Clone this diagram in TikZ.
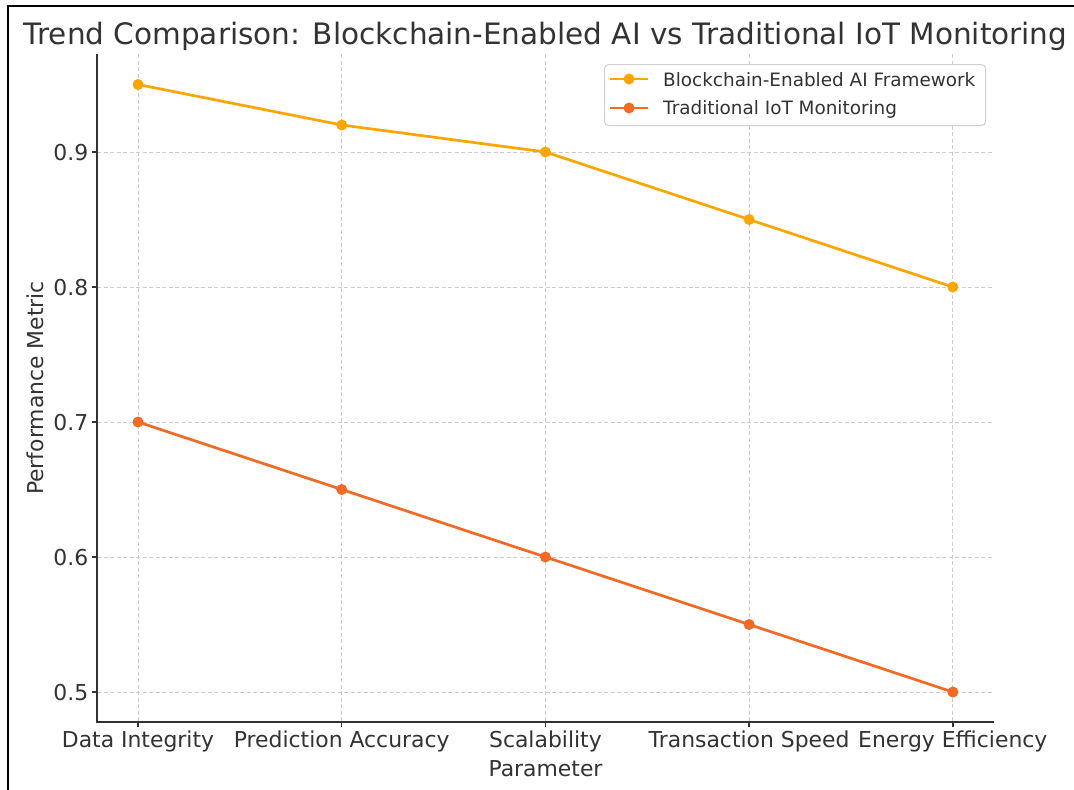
\documentclass[tikz,border=0pt]{standalone}
\usepackage{fontspec}
\setmainfont{DejaVu Sans}
\definecolor{aiorange}{RGB}{255,165,0}
\definecolor{iotorange}{RGB}{242,106,36}
\definecolor{inkgray}{RGB}{51,51,51}
\begin{document}
\begin{tikzpicture}[x=1pt,y=-1pt,
  txt/.style={text=inkgray, inner sep=0pt},
  ticklbl/.style={txt, font=\fontsize{21.9}{26}\selectfont},
  legendlbl/.style={txt, font=\fontsize{18.4}{22}\selectfont},
  titlelbl/.style={txt, font=\fontsize{29.5}{34}\selectfont},
  gridline/.style={draw=black!20, line width=1pt, dash pattern=on 4pt off 2.5pt},
  spine/.style={draw=inkgray, line width=1.6pt},
  tickmark/.style={draw=inkgray, line width=1.4pt},
  ailine/.style={draw=aiorange, line width=2.7pt, line join=round},
  iotline/.style={draw=iotorange, line width=2.7pt, line join=round},
  aidot/.style={circle, fill=aiorange, minimum size=11pt, inner sep=0pt},
  iotdot/.style={circle, fill=iotorange, minimum size=11pt, inner sep=0pt},
  legendbox/.style={draw=black!18, fill=white, line width=1pt, rounded corners=4pt}
]
% page and outer frame
\fill[white] (0,0) rectangle (1074,790);
\useasboundingbox (0,0) rectangle (1074,790);
\draw[black, line width=2pt] (8,790) -- (8,6) -- (1074,6);

% grid
\foreach \gx in {138,341.7,545.4,749.1,952.8}
  \draw[gridline] (\gx,54) -- (\gx,722);
\foreach \gy in {152,287,422,557,692}
  \draw[gridline] (97.25,\gy) -- (993.75,\gy);

% spines and ticks
\draw[spine] (97.25,54) -- (97.25,722) -- (993.75,722);
\foreach \gx in {138,341.7,545.4,749.1,952.8}
  \draw[tickmark] (\gx,722) -- (\gx,727);
\foreach \gy in {152,287,422,557,692}
  \draw[tickmark] (97.25,\gy) -- (92.25,\gy);

% y tick labels
\node[ticklbl, anchor=base east] (y5) at (88.5,700) {0.5};
\node[ticklbl, anchor=base east] (y6) at (88.5,565) {0.6};
\node[ticklbl, anchor=base east] (y7) at (88.5,430) {0.7};
\node[ticklbl, anchor=base east] (y8) at (88.5,295) {0.8};
\node[ticklbl, anchor=base east] (y9) at (88.5,160) {0.9};

% x tick labels
\node[ticklbl, anchor=base] (c0) at (138,747) {Data Integrity};
\node[ticklbl, anchor=base] (c1) at (341.7,747) {Prediction Accuracy};
\node[ticklbl, anchor=base] (c2) at (545.4,747) {Scalability};
\node[ticklbl, anchor=base] (c3) at (749.1,747) {Transaction Speed};
\node[ticklbl, anchor=base] (c4) at (952.8,747) {Energy Efficiency};

% axis labels and title
\node[ticklbl, anchor=base] (xlab) at (545.5,776) {Parameter};
\node[ticklbl, anchor=base, rotate=90] (ylab) at (43,388) {Performance Metric};
\node[titlelbl, anchor=base] (title) at (545.5,44) {Trend Comparison: Blockchain-Enabled AI vs Traditional IoT Monitoring};

% blockchain-enabled AI framework series
\node[aidot] (a0) at (138,84.5) {};
\node[aidot] (a1) at (341.7,125) {};
\node[aidot] (a2) at (545.4,152) {};
\node[aidot] (a3) at (749.1,219.5) {};
\node[aidot] (a4) at (952.8,287) {};
\draw[ailine] (a0.center) -- (a1.center) -- (a2.center) -- (a3.center) -- (a4.center);

% traditional IoT monitoring series
\node[iotdot] (t0) at (138,422) {};
\node[iotdot] (t1) at (341.7,489.5) {};
\node[iotdot] (t2) at (545.4,557) {};
\node[iotdot] (t3) at (749.1,624.5) {};
\node[iotdot] (t4) at (952.8,692) {};
\draw[iotline] (t0.center) -- (t1.center) -- (t2.center) -- (t3.center) -- (t4.center);

% legend
\node[legendbox, minimum width=381pt, minimum height=61pt, anchor=north west] (legend) at (604,64) {};
\coordinate (la0) at (610,79);
\coordinate (la1) at (648,79);
\node[aidot] (lam) at (629,79) {};
\draw[ailine] (la0) -- (la1);
\node[legendlbl, anchor=base west] (lat) at (663,86) {Blockchain-Enabled AI Framework};
\coordinate (lt0) at (610,108);
\coordinate (lt1) at (648,108);
\node[iotdot] (ltm) at (629,108) {};
\draw[iotline] (lt0) -- (lt1);
\node[legendlbl, anchor=base west] (ltt) at (663,114) {Traditional IoT Monitoring};
\end{tikzpicture}
\end{document}
